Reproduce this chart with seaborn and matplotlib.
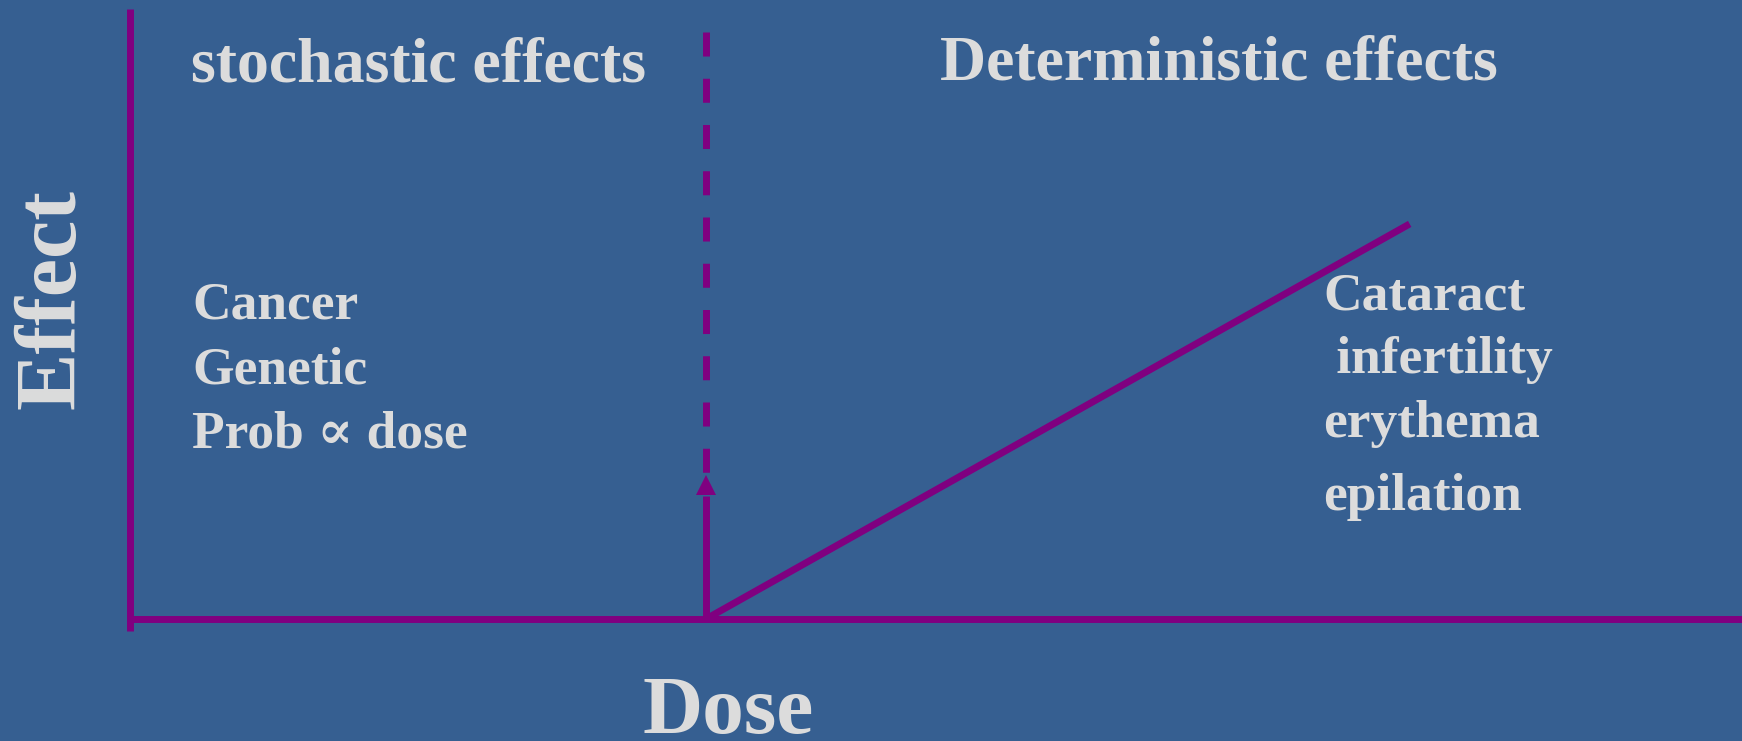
import seaborn as sns
import matplotlib.pyplot as plt

# schematic: effect vs dose, threshold between stochastic and deterministic effects
threshold_dose = 1.0
dose_range = [0, 2.8]
effect_range = [-0.03, 1.544]
det_dose = [1.0, 2.222]
det_effect = [0.0, 1.0]
arrow_top = 0.365
dashed_top = 1.486

stochastic_items = ["Cancer", "Genetic", "Prob \u221d dose"]
deterministic_items = ["Cataract", " infertility", "erythema", "epilation"]

bg = "#365F91"
purple = "#800080"
txt = "#DCDCDC"

sns.set_theme(style="white")
plt.rcParams["font.family"] = ["Liberation Serif", "DejaVu Serif"]

W, H = 1742, 741
fig = plt.figure(figsize=(W / 100, H / 100), dpi=100, facecolor=bg)
ax = fig.add_axes([130 / W, (H - 619) / H, (W - 130) / W, (619 - 9) / H])
ax.set_facecolor(bg)
ax.set_xlim(0, 2.799)
ax.set_ylim(0, 1.544)
ax.axis("off")

lw = 5.0
# axes lines
sns.lineplot(x=dose_range, y=[0, 0], ax=ax, color=purple, linewidth=lw,
             solid_capstyle="butt", clip_on=False)
ax.plot([0, 0], effect_range, color=purple, linewidth=lw,
        solid_capstyle="butt", clip_on=False)

# deterministic line
sns.lineplot(x=det_dose, y=det_effect, ax=ax, color=purple, linewidth=lw,
             solid_capstyle="butt")

# threshold: dashed boundary + arrow
ax.plot([threshold_dose, threshold_dose], [dashed_top, arrow_top], color=purple,
        linewidth=lw, dashes=(3.46, 3.2), dash_capstyle="butt")
head = 21 / 395  # arrow head length in effect units
ax.plot([threshold_dose, threshold_dose], [0, arrow_top - head], color=purple,
        linewidth=lw, solid_capstyle="butt")
ax.plot([threshold_dose], [arrow_top - head / 2], marker="^", markersize=14.4,
        color=purple, markeredgewidth=0)


def px(x, y):
    return x / W, 1 - y / H


kw = dict(color=txt, fontweight="bold", va="baseline", ha="left")
fig.text(*px(191, 81), "stochastic effects", fontsize=46, **kw)
fig.text(*px(940, 80), "Deterministic effects", fontsize=46, **kw)

for label, y in zip(stochastic_items, [319, 383, 447]):
    fig.text(*px(192, y), label, fontsize=38.5, **kw)
for label, y in zip(deterministic_items, [309, 373, 437, 510]):
    fig.text(*px(1323, y), label, fontsize=38.5, **kw)

fig.text(*px(728, 733), "Dose", fontsize=60, color=txt, fontweight="bold",
         ha="center", va="baseline")
fig.text(*px(54, 299), "Effect", fontsize=62, color=txt, fontweight="bold",
         ha="center", va="center", rotation=90)

fig.savefig("out.png", dpi=100, facecolor=bg)
